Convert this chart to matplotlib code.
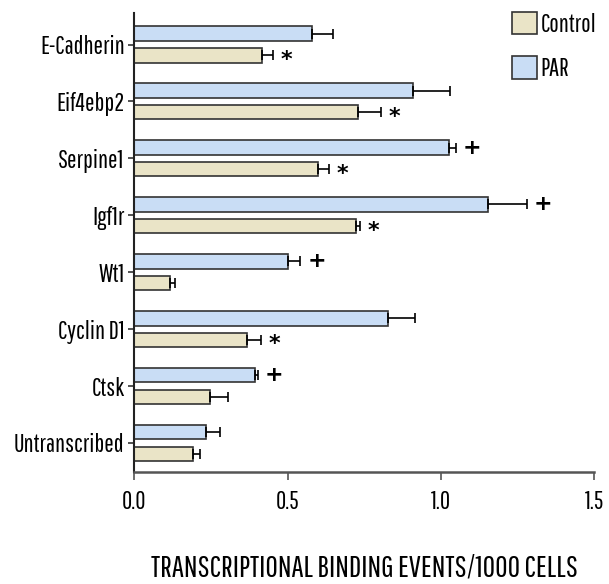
import matplotlib
matplotlib.use("Agg")
import matplotlib.pyplot as plt
from matplotlib.patches import Patch
import numpy as np

plt.rcParams['font.family'] = ['Pathway Gothic One', 'Liberation Sans', 'DejaVu Sans']

genes = ['E-Cadherin', 'Eif4ebp2', 'Serpine1', 'Igf1r', 'Wt1', 'Cyclin D1', 'Ctsk', 'Untranscribed']
par = [0.579, 0.909, 1.026, 1.153, 0.50, 0.828, 0.393, 0.234]
par_err = [0.068, 0.121, 0.023, 0.127, 0.042, 0.087, 0.010, 0.045]
control = [0.417, 0.73, 0.60, 0.724, 0.117, 0.367, 0.247, 0.192]
control_err = [0.036, 0.075, 0.036, 0.013, 0.016, 0.045, 0.058, 0.022]
par_mark = ['', '', '+', '+', '+', '', '+', '']
control_mark = ['*', '*', '*', '*', '', '*', '', '']

c_par = '#C9DDF5'
c_ctrl = '#EAE4C7'
edge = '#333333'

fig = plt.figure(figsize=(6.09, 5.84), dpi=100)
ax = fig.add_axes([0.2205, 0.1918, 0.7549, 0.7859])

y = np.arange(len(genes))
h = 0.255
off = 0.19
ekw = dict(ecolor='black', elinewidth=1.2, capsize=3.5, capthick=1.2)
ax.barh(y - off, par, height=h, color=c_par, edgecolor=edge, linewidth=1.2,
        xerr=[np.zeros(len(par)), par_err], error_kw=ekw)
ax.barh(y + off, control, height=h, color=c_ctrl, edgecolor=edge, linewidth=1.2,
        xerr=[np.zeros(len(control)), control_err], error_kw=ekw)

for i in range(len(genes)):
    if par_mark[i]:
        ax.text(par[i] + par_err[i] + 0.022, y[i] - off, par_mark[i], fontsize=16,
                fontweight='bold', va='center', ha='left', family='DejaVu Sans')
    if control_mark[i]:
        ax.text(control[i] + control_err[i] + 0.025, y[i] + off + 0.08, control_mark[i], fontsize=16,
                fontweight='bold', va='center', ha='left', family='DejaVu Sans')

ax.set_ylim(len(genes) - 1 + 0.51, -0.553)
ax.set_xlim(0, 1.5)
ax.set_yticks(y)
ax.set_yticklabels(genes)
ax.set_xticks([0.0, 0.5, 1.0, 1.5])
ax.set_xticklabels(['0.0', '0.5', '1.0', '1.5'])
ax.tick_params(axis='y', labelsize=18, length=4, width=1.2, color='#333333', pad=3)
ax.tick_params(axis='x', labelsize=18, length=6, width=1.2, color='#555555', pad=7)
for s in ['top', 'right']:
    ax.spines[s].set_visible(False)
ax.spines['left'].set_linewidth(1.5)
ax.spines['left'].set_color('#222222')
ax.spines['bottom'].set_linewidth(1.8)
ax.spines['bottom'].set_color('#555555')

ax.set_xlabel('TRANSCRIPTIONAL BINDING EVENTS/1000 CELLS', fontsize=22)
ax.xaxis.set_label_coords(0.5, -0.178)

handles = [Patch(facecolor=c_ctrl, edgecolor=edge, linewidth=1.2, label='Control'),
           Patch(facecolor=c_par, edgecolor=edge, linewidth=1.2, label='PAR')]
fig.legend(handles=handles, loc='upper left', bbox_to_anchor=(512 / 609, 1 - 12 / 584), frameon=False,
           fontsize=18, handlelength=1.0, handleheight=1.0, handletextpad=0.15, labelspacing=0.78,
           borderpad=0, borderaxespad=0)

fig.savefig('out.png', dpi=100)
